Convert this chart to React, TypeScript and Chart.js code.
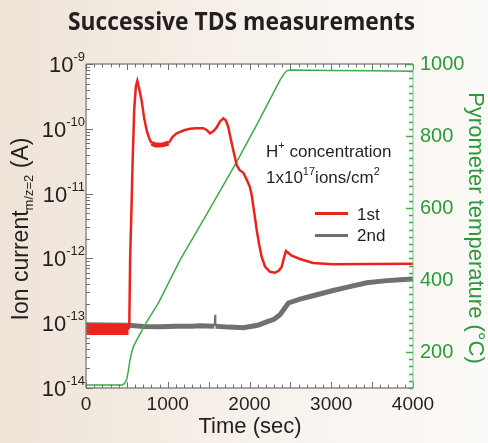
import { useEffect, useRef } from 'react';
import { Chart, registerables } from 'chart.js';

Chart.register(...registerables);

const FONT = '"Liberation Sans", Arial, sans-serif';

// 1st TDS run (ion current, A)
const time1st = [0, 520, 530, 540, 555, 570, 590, 610, 628, 650, 681, 710, 742, 775, 803, 850, 900, 950, 1010, 1060, 1109, 1200, 1272, 1350, 1435, 1480, 1517, 1560, 1598, 1640, 1680, 1710, 1740, 1770, 1801, 1843, 1880, 1925, 1970, 2006, 2030, 2047, 2070, 2088, 2120, 2149, 2190, 2251, 2312, 2360, 2394, 2420, 2446, 2480, 2516, 2618, 2777, 3022, 3500, 4000];
const ion1st = [8e-14, 8e-14, 1e-13, 1e-12, 5e-12, 3e-11, 2e-10, 4.5e-10, 5.5e-10, 4.2e-10, 2.7e-10, 1.5e-10, 9.5e-11, 7e-11, 6e-11, 5.6e-11, 5.6e-11, 5.7e-11, 6e-11, 7.5e-11, 8.5e-11, 9.5e-11, 1e-10, 1.02e-10, 1.02e-10, 9.5e-11, 8.5e-11, 9.2e-11, 1.05e-10, 1.3e-10, 1.45e-10, 1.35e-10, 1.07e-10, 7e-11, 4.7e-11, 2.75e-11, 2.3e-11, 2.1e-11, 1.6e-11, 1.25e-11, 9e-12, 6.3e-12, 4e-12, 2.75e-12, 1.6e-12, 1.05e-12, 7.5e-13, 6.2e-13, 6e-13, 6.5e-13, 7.4e-13, 1e-12, 1.3e-12, 1.2e-12, 1.1e-12, 9.8e-13, 8.5e-13, 8.1e-13, 8.2e-13, 8.3e-13];

// 2nd TDS run (ion current, A)
const time2nd = [0, 520, 700, 900, 1100, 1300, 1394, 1570, 1578, 1586, 1750, 1925, 2100, 2210, 2300, 2373, 2430, 2475, 2618, 2800, 3022, 3200, 3434, 3650, 3841, 4000];
const ion2nd = [9.5e-14, 9.3e-14, 8.9e-14, 8.8e-14, 9.0e-14, 9.0e-14, 9.1e-14, 9.0e-14, 1.35e-13, 9.0e-14, 8.7e-14, 8.5e-14, 9.3e-14, 1.05e-13, 1.15e-13, 1.35e-13, 1.7e-13, 2.05e-13, 2.35e-13, 2.7e-13, 3.2e-13, 3.6e-13, 4.2e-13, 4.5e-13, 4.7e-13, 4.8e-13];

// Pyrometer temperature (°C)
const timeTemp = [0, 440, 470, 500, 520, 538, 560, 580, 620, 680, 742, 885, 1150, 1500, 1843, 2100, 2373, 2420, 2455, 2500, 3000, 3500, 4000];
const temperature = [108, 108, 112, 125, 150, 178, 200, 215, 233, 258, 284, 336, 455, 592, 728, 836, 955, 972, 981, 983, 982, 981, 980];

// Axis ticks / labels
const xTickValues = [0, 1000, 2000, 3000, 4000];
const xTickLabels = ['0', '1000', '2000', '3000', '4000'];
const leftTickValues = [1e-14, 1e-13, 1e-12, 1e-11, 1e-10, 1e-9];
const leftTickBase = '10';
const leftTickExponents = ['-14', '-13', '-12', '-11', '-10', '-9'];
const rightTickValues = [200, 400, 600, 800, 1000];
const rightTickLabels = ['200', '400', '600', '800', '1000'];

const RED = '#e8241d';
const GRAY = '#707070';
const GREEN_LINE = '#3cab4c';
const GREEN_TEXT = '#2b9a3a';
const TEXT = '#231f20';

type Part = { text: string; size: number; dy?: number; w?: number };

function drawRich(ctx: CanvasRenderingContext2D, parts: Part[], x: number, y: number, align: 'left' | 'center' | 'right') {
  let total = 0;
  parts.forEach((p) => {
    ctx.font = `${p.size}px ${FONT}`;
    p.w = ctx.measureText(p.text).width;
    total += p.w;
  });
  let cx = align === 'center' ? x - total / 2 : align === 'right' ? x - total : x;
  ctx.textAlign = 'left';
  ctx.textBaseline = 'alphabetic';
  parts.forEach((p) => {
    ctx.font = `${p.size}px ${FONT}`;
    ctx.fillText(p.text, cx, y + (p.dy || 0));
    cx += p.w || 0;
  });
}

const decorPlugin = {
  id: 'tdsDecor',
  beforeDraw(chart: any) {
    const { ctx, chartArea: a } = chart;
    ctx.save();
    ctx.fillStyle = '#ffffff';
    ctx.fillRect(a.left, a.top, a.right - a.left, a.bottom - a.top);
    ctx.restore();
  },
  afterDatasetsDraw(chart: any) {
    const { ctx, chartArea: a } = chart;
    const xs = chart.scales.x;
    const ys = chart.scales.y;
    const y2 = chart.scales.y2;
    ctx.save();
    const seg = (x1: number, y1: number, x2: number, y2p: number) => {
      ctx.beginPath();
      ctx.moveTo(x1, y1);
      ctx.lineTo(x2, y2p);
      ctx.stroke();
    };
    // border
    ctx.strokeStyle = '#8a8a8a';
    ctx.lineWidth = 1.5;
    seg(a.left, a.top, a.right, a.top);
    seg(a.left, a.top, a.left, a.bottom);
    seg(a.left, a.bottom, a.right, a.bottom);
    // x ticks (bottom and top, inward)
    ctx.lineWidth = 1;
    ctx.strokeStyle = '#6f6f6f';
    for (let t = 0; t <= 4000; t += 100) {
      const px = Math.round(xs.getPixelForValue(t)) + 0.5;
      const len = t % 500 === 0 ? 6 : 3.5;
      seg(px, a.bottom, px, a.bottom - len);
      seg(px, a.top, px, a.top + len);
    }
    // left log ticks
    for (let e = -14; e <= -9; e++) {
      for (let m = 1; m <= 9; m++) {
        const v = m * Math.pow(10, e);
        if (v > 1.0001e-9) break;
        const py = Math.round(ys.getPixelForValue(v)) + 0.5;
        const len = m === 1 ? 7 : 4;
        seg(a.left, py, a.left + len, py);
      }
    }
    // right border + temperature ticks
    ctx.strokeStyle = '#7cc484';
    ctx.lineWidth = 1;
    seg(a.right, a.top, a.right, a.bottom);
    ctx.strokeStyle = GREEN_LINE;
    ctx.lineWidth = 1.5;
    for (let T = 100; T <= 1000; T += 20) {
      const py = Math.round(y2.getPixelForValue(T)) + 0.5;
      const len = T % 200 === 0 ? 7 : 4;
      seg(a.right, py, a.right - len, py);
    }
    ctx.restore();
  },
  afterDraw(chart: any) {
    const { ctx, chartArea: a } = chart;
    const ys = chart.scales.y;
    ctx.save();
    ctx.fillStyle = TEXT;

    // Title
    ctx.font = `bold 25px "Open Sans", ${FONT}`;
    const title = 'Successive TDS measurements';
    const tw = ctx.measureText(title).width;
    ctx.save();
    ctx.translate(241.5, 29.5);
    ctx.scale(347 / tw, 1);
    ctx.textAlign = 'center';
    ctx.textBaseline = 'alphabetic';
    ctx.fillText(title, 0, 0);
    ctx.restore();

    // Left tick labels 10^n
    leftTickValues.forEach((v, i) => {
      const py = ys.getPixelForValue(v);
      drawRich(ctx, [
        { text: leftTickBase, size: 22 },
        { text: leftTickExponents[i], size: 13, dy: -11 },
      ], a.left - 1, py + 8, 'right');
    });

    // Left axis title (rotated)
    ctx.save();
    ctx.translate(19, 229);
    ctx.rotate(-Math.PI / 2);
    drawRich(ctx, [
      { text: 'Ion current', size: 23 },
      { text: 'm/z=2', size: 13, dy: 5 },
      { text: ' (A)', size: 23 },
    ], 0, 9, 'center');
    ctx.restore();

    // Right axis title (rotated)
    ctx.save();
    ctx.fillStyle = GREEN_TEXT;
    ctx.translate(469, 228);
    ctx.rotate(Math.PI / 2);
    drawRich(ctx, [{ text: 'Pyrometer temperature (°C)', size: 22 }], 0, 0, 'center');
    ctx.restore();

    // X axis title
    drawRich(ctx, [{ text: 'Time (sec)', size: 22 }], 250, 433, 'center');

    // Annotation
    drawRich(ctx, [
      { text: 'H', size: 17 },
      { text: '+', size: 11, dy: -8 },
      { text: ' concentration', size: 17 },
    ], 266, 157, 'left');
    drawRich(ctx, [
      { text: '1x10', size: 17 },
      { text: '17', size: 11, dy: -8 },
      { text: 'ions/cm', size: 17 },
      { text: '2', size: 11, dy: -8 },
    ], 266, 183, 'left');

    // Legend
    ctx.lineWidth = 3;
    ctx.strokeStyle = RED;
    ctx.beginPath();
    ctx.moveTo(315, 213.5);
    ctx.lineTo(348, 213.5);
    ctx.stroke();
    ctx.strokeStyle = GRAY;
    ctx.beginPath();
    ctx.moveTo(315, 235.5);
    ctx.lineTo(348, 235.5);
    ctx.stroke();
    ctx.fillStyle = TEXT;
    drawRich(ctx, [{ text: '1st', size: 17 }], 357, 219.5, 'left');
    drawRich(ctx, [{ text: '2nd', size: 17 }], 357, 241, 'left');

    ctx.restore();
  },
};

export default function App() {
  const canvasRef = useRef<HTMLCanvasElement | null>(null);

  useEffect(() => {
    const canvas = canvasRef.current;
    if (!canvas) return;
    const chart = new Chart(canvas, {
      type: 'line',
      data: {
        datasets: [
          {
            label: '1st',
            data: time1st.map((t, i) => ({ x: t, y: ion1st[i] })),
            borderColor: RED,
            borderWidth: 2.5,
            pointRadius: 0,
            tension: 0,
            yAxisID: 'y',
            segment: {
              borderWidth: (c: any) =>
                c.p1.parsed.x <= 520 ? 11 : c.p0.parsed.x >= 800 && c.p1.parsed.x <= 1010 ? 5 : 2.5,
            },
          },
          {
            label: 'Temperature',
            data: timeTemp.map((t, i) => ({ x: t, y: temperature[i] })),
            borderColor: GREEN_LINE,
            borderWidth: 1.5,
            pointRadius: 0,
            yAxisID: 'y2',
          },
          {
            label: '2nd',
            data: time2nd.map((t, i) => ({ x: t, y: ion2nd[i] })),
            borderColor: GRAY,
            borderWidth: 5,
            pointRadius: 0,
            yAxisID: 'y',
            segment: {
              borderWidth: (c: any) => (c.p0.parsed.x >= 1570 && c.p1.parsed.x <= 1586 ? 1.5 : 5),
            },
          },
        ],
      },
      options: {
        responsive: false,
        animation: false,
        layout: { padding: { top: 64, left: 0, right: 0, bottom: 0 } },
        plugins: { legend: { display: false }, tooltip: { enabled: false }, title: { display: false } },
        scales: {
          x: {
            type: 'linear',
            min: 0,
            max: 4000,
            position: 'bottom',
            grid: { display: false, drawTicks: false },
            border: { display: false },
            ticks: {
              padding: 5,
              color: TEXT,
              font: { family: FONT, size: 19 },
              maxRotation: 0,
              callback: (_v: any, i: number) => xTickLabels[i],
            },
            afterBuildTicks: (s: any) => {
              s.ticks = xTickValues.map((v) => ({ value: v }));
            },
            afterFit: (s: any) => {
              s.height = 55;
            },
          },
          y: {
            type: 'logarithmic',
            min: 1e-14,
            max: 1e-9,
            position: 'left',
            grid: { display: false, drawTicks: false },
            border: { display: false },
            ticks: { display: false },
            afterBuildTicks: (s: any) => {
              s.ticks = leftTickValues.map((v) => ({ value: v }));
            },
            afterFit: (s: any) => {
              s.width = 86;
            },
          },
          y2: {
            type: 'linear',
            min: 100,
            max: 1000,
            position: 'right',
            grid: { display: false, drawTicks: false },
            border: { display: false },
            ticks: {
              padding: 7,
              color: GREEN_TEXT,
              font: { family: FONT, size: 20 },
              callback: (_v: any, i: number) => rightTickLabels[i],
            },
            afterBuildTicks: (s: any) => {
              s.ticks = rightTickValues.map((v) => ({ value: v }));
            },
            afterFit: (s: any) => {
              s.width = 75;
            },
          },
        },
      },
      plugins: [decorPlugin],
    } as any);
    return () => chart.destroy();
  }, []);

  return (
    <div
      style={{
        position: 'fixed',
        left: 0,
        top: 0,
        width: 488,
        height: 443,
        background: 'linear-gradient(to right, #eee3d6 0%, #f6f0e9 45%, #fcfaf8 100%)',
      }}
    >
      <canvas ref={canvasRef} width={488} height={443} style={{ display: 'block' }} />
    </div>
  );
}
